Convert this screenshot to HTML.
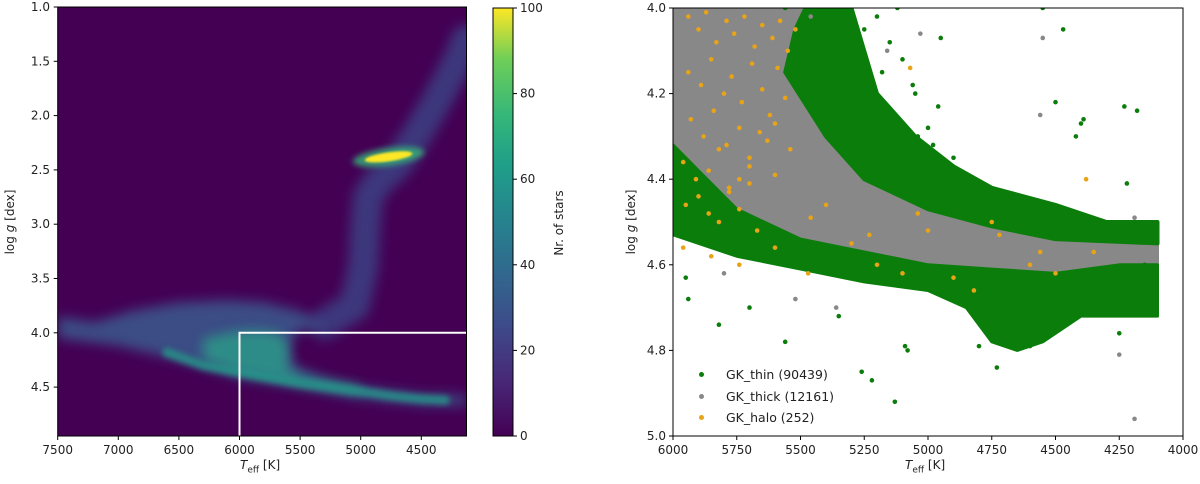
<!DOCTYPE html>
<html><head><meta charset="utf-8"><style>
body{margin:0;background:#fff;}
svg{display:block;font-family:"DejaVu Sans","Liberation Sans",sans-serif;}
text{font-size:12px;fill:#222;}
</style></head><body>
<svg id="fig" width="1200" height="484" viewBox="0 0 1200 484">
<defs>
<filter id="b3" x="-50%" y="-50%" width="200%" height="200%"><feGaussianBlur stdDeviation="3"/></filter>
<filter id="b6" x="-50%" y="-50%" width="200%" height="200%"><feGaussianBlur stdDeviation="6"/></filter>
<filter id="b1"><feGaussianBlur stdDeviation="1"/></filter>
<clipPath id="clipL"><rect x="57.7" y="7" width="408.8" height="429"/></clipPath>
<clipPath id="clipR"><rect x="673" y="8" width="510" height="428"/></clipPath>
<linearGradient id="vir" x1="0" y1="1" x2="0" y2="0">
<stop offset="0" stop-color="#440154"/><stop offset="0.13" stop-color="#482878"/><stop offset="0.25" stop-color="#3e4989"/><stop offset="0.38" stop-color="#31688e"/><stop offset="0.5" stop-color="#26828e"/><stop offset="0.63" stop-color="#1f9e89"/><stop offset="0.75" stop-color="#35b779"/><stop offset="0.88" stop-color="#6ece58"/><stop offset="1" stop-color="#fde725"/>
</linearGradient>
</defs>
<g id="left"></g>
<g id="right"></g>
</svg>
<script>
// ---- left panel data ----
const leftXTicks=[7500,7000,6500,6000,5500,5000,4500];
const leftYTicks=[1.0,1.5,2.0,2.5,3.0,3.5,4.0,4.5];
const cbTicks=[0,20,40,60,80,100];
const cloudT=[7500,7200,6900,6500,6100,5800,5500,5300,5530,5600,5550,5300,5000,4500,4130,4130,4500,5000,5500,6000,6500,7000,7500];
const cloudG=[3.85,3.9,3.8,3.72,3.7,3.72,3.8,3.92,4.0,4.15,4.3,4.42,4.5,4.57,4.58,4.67,4.66,4.6,4.5,4.41,4.25,4.12,4.05];
const coreT=[6300,6000,5750,5620,5580,5620,5500,5250,5000,5000,5500,6000,6300];
const coreG=[4.05,3.98,3.98,4.05,4.2,4.3,4.4,4.45,4.5,4.56,4.47,4.37,4.25];
const msBandT=[6600,6300,6000,5750,5500,5250,5000,4750,4500,4300];
const msBandG=[4.18,4.3,4.36,4.41,4.46,4.5,4.54,4.58,4.61,4.62];
const giantT=[5300,5050,4980,4960,4940,4850,4700,4550,4390,4200,4130];
const giantG=[3.92,3.75,3.4,3.0,2.75,2.6,2.45,2.2,1.9,1.5,1.3];
const streakT=[5750,5500,5250,5000,6000,4990];
const streakTop=[4.1,4.35,4.45,4.5,4.05,3.2];
const streakBot=[4.42,4.5,4.55,4.58,4.45,3.65];
const clumpT=4770, clumpG=2.38;
const boxT=6000, boxG=4.0;
// ---- right panel data ----
const rightXTicks=[6000,5750,5500,5250,5000,4750,4500,4250,4000];
const rightYTicks=[4.0,4.2,4.4,4.6,4.8,5.0];
const grayTopT=[6000,5475,5420,5300,5150,5000,4750,4500,4250,4100];
const grayTopG=[4.0,4.0,4.15,4.3,4.4,4.45,4.5,4.5,4.52,4.52];
const grayBotT=[4100,4250,4500,4750,5000,5250,5500,5750,6000];
const grayBotG=[4.68,4.68,4.66,4.64,4.62,4.6,4.57,4.52,4.45];
const bandTopT=[5480,5300,5250,5200,5050,4900,4750,4500,4300,4100];
const bandTopG=[4.0,4.0,4.1,4.2,4.3,4.37,4.42,4.46,4.5,4.5];
const bandBotT=[4100,4500,4750,5000,5250,5400,5560,5520];
const bandBotG=[4.55,4.54,4.51,4.47,4.4,4.3,4.15,4.05];
const stripTopT=[6000,5900,5750,5500,5250,5000,4750,4500,4250,4100];
const stripTopG=[4.32,4.38,4.47,4.54,4.57,4.6,4.61,4.62,4.6,4.6];
const stripBotT=[4100,4250,4400,4550,4650,4750,4850,5000,5250,5500,5750,6000];
const stripBotG=[4.72,4.72,4.72,4.78,4.8,4.78,4.7,4.66,4.64,4.61,4.58,4.53];
const thinOutT=[5940,5820,5560,5220,5130,5090,5080,4950,4550,4470,4420,4400,4390,4220,4180,4230,4960,5050,5040,5260,5350,4730,4250,4800,4600,5700,5950,5560,4500,4150,5250,5200,5150,5100,5120,5180,5060,5000,4980,4900];
const thinOutG=[4.68,4.74,4.78,4.87,4.92,4.79,4.8,4.07,4.0,4.05,4.3,4.27,4.26,4.41,4.24,4.23,4.23,4.2,4.3,4.85,4.72,4.84,4.76,4.79,4.79,4.7,4.63,4.0,4.22,4.6,4.05,4.02,4.08,4.12,4.0,4.15,4.18,4.28,4.32,4.35];
const thickOutT=[5030,4550,4560,4250,4190,4190,5520,5800,5360,5160,5460];
const thickOutG=[4.06,4.07,4.25,4.81,4.96,4.49,4.68,4.62,4.7,4.1,4.02];
const haloT=[5940,5900,5870,5830,5790,5760,5720,5680,5650,5610,5580,5550,5520,5940,5890,5850,5800,5770,5730,5690,5650,5620,5590,5560,5930,5880,5840,5790,5740,5700,5660,5630,5600,5960,5910,5860,5820,5780,5740,5700,5950,5900,5860,5820,5780,5740,5700,5670,5600,5540,5400,5070,4380,5460,5230,5000,4750,4560,4350,5960,5850,5740,5600,5470,5100,4900,4820,5200,5300,5040,4720,4600,4500];
const haloG=[4.02,4.05,4.01,4.08,4.03,4.06,4.02,4.09,4.04,4.07,4.03,4.1,4.05,4.15,4.18,4.12,4.2,4.16,4.22,4.13,4.19,4.25,4.14,4.21,4.26,4.3,4.24,4.32,4.28,4.35,4.29,4.31,4.27,4.36,4.4,4.38,4.33,4.42,4.4,4.37,4.46,4.44,4.48,4.5,4.43,4.47,4.41,4.52,4.39,4.33,4.46,4.14,4.4,4.49,4.53,4.52,4.5,4.57,4.57,4.56,4.58,4.6,4.56,4.62,4.62,4.63,4.66,4.6,4.55,4.48,4.53,4.6,4.62];

const NS="http://www.w3.org/2000/svg";
function mk(tag,attrs,parent){const e=document.createElementNS(NS,tag);for(const k in attrs)e.setAttribute(k,attrs[k]);parent.appendChild(e);return e;}
const L=document.getElementById('left'), R=document.getElementById('right');
const lx=t=>57.7+(7500-t)/500*60.6, ly=g=>7+(g-1)/0.5*54.3;
const rx=t=>673+(6000-t)/2000*510, ry=g=>8+(g-4)*428;
const pts=(T,G,fx,fy)=>T.map((t,i)=>fx(t)+','+fy(G[i])).join(' ');

// ---- left panel ----
let bg=mk('rect',{x:57.7,y:7,width:408.8,height:429,fill:'#440154'},L);

const lg=mk('g',{'clip-path':'url(#clipL)'},L);
let gb=mk('polyline',{points:pts(giantT,giantG,lx,ly),fill:'none',stroke:'#3b4a8a','stroke-width':30,'stroke-linejoin':'round','stroke-linecap':'round',opacity:0.75,filter:'url(#b6)'},lg);

let to=mk('polygon',{points:pts(cloudT,cloudG,lx,ly),fill:'#3a5a8e',opacity:0.85,filter:'url(#b6)'},lg);

let core=mk('polygon',{points:pts(coreT,coreG,lx,ly),fill:'#2a9d88',opacity:0.8,filter:'url(#b6)'},lg);

let ms=mk('polyline',{points:pts(msBandT,msBandG,lx,ly),fill:'none',stroke:'#27968a','stroke-width':9,'stroke-linecap':'round',opacity:0.85,filter:'url(#b3)'},lg);

streakT.forEach((t,i)=>{const s=mk('line',{x1:lx(t),x2:lx(t),y1:ly(streakTop[i]),y2:ly(streakBot[i]),stroke:'#a8db34','stroke-width':2,opacity:0.75,filter:'url(#b1)'},lg);
});
let ch=mk('ellipse',{cx:lx(clumpT),cy:ly(clumpG),rx:36,ry:9,fill:'#35b779',opacity:0.8,filter:'url(#b3)',transform:`rotate(-8 ${lx(clumpT)} ${ly(clumpG)})`},lg);

let cl=mk('ellipse',{cx:lx(clumpT),cy:ly(clumpG),rx:24,ry:4.5,fill:'#fde725',filter:'url(#b1)',transform:`rotate(-8 ${lx(clumpT)} ${ly(clumpG)})`},lg);

let box=mk('polyline',{points:`${lx(boxT)},436 ${lx(boxT)},${ly(boxG)} 466.5,${ly(boxG)}`,fill:'none',stroke:'#fff','stroke-width':2},lg);

let fr=mk('rect',{x:57.7,y:7,width:408.8,height:429,fill:'none',stroke:'#000','stroke-width':1},L);

leftXTicks.forEach(t=>{const x=lx(t);mk('line',{x1:x,x2:x,y1:436,y2:440,stroke:'#000'},L);
const tx=mk('text',{x:x,y:454,'text-anchor':'middle'},L);tx.textContent=t;
});
leftYTicks.forEach(g=>{const y=ly(g);mk('line',{x1:53.7,x2:57.7,y1:y,y2:y,stroke:'#000'},L);
const tx=mk('text',{x:50,y:y+4,'text-anchor':'end'},L);tx.textContent=g.toFixed(1);
});
let cb=mk('rect',{x:493,y:8,width:20,height:428,fill:'url(#vir)',stroke:'#000','stroke-width':1},L);

cbTicks.forEach(v=>{const y=436-v/100*428;mk('line',{x1:513,x2:517,y1:y,y2:y,stroke:'#000'},L);
const tx=mk('text',{x:520,y:y+4},L);tx.textContent=v;
});

// ---- right panel ----
let rb=mk('rect',{x:673,y:8,width:510,height:428,fill:'#fff'},R);

const rg=mk('g',{'clip-path':'url(#clipR)'},R);
let gy=mk('polygon',{points:pts(grayTopT.concat(grayBotT),grayTopG.concat(grayBotG),rx,ry),fill:'#888',stroke:'#888','stroke-width':3,'stroke-linejoin':'round'},rg);

let gr=mk('polygon',{points:pts(bandTopT.concat(bandBotT),bandTopG.concat(bandBotG),rx,ry),fill:'#0a7d0a',stroke:'#0a7d0a','stroke-width':4,'stroke-linejoin':'round'},rg);

let st=mk('polygon',{points:pts(stripTopT.concat(stripBotT),stripTopG.concat(stripBotG),rx,ry),fill:'#0a7d0a',stroke:'#0a7d0a','stroke-width':3,'stroke-linejoin':'round'},rg);

thinOutT.forEach((t,i)=>{const c=mk('circle',{cx:rx(t),cy:ry(thinOutG[i]),r:2.3,fill:'#0a7d0a'},rg);
});
thickOutT.forEach((t,i)=>{const c=mk('circle',{cx:rx(t),cy:ry(thickOutG[i]),r:2.3,fill:'#888'},rg);
});
haloT.forEach((t,i)=>{const c=mk('circle',{cx:rx(t),cy:ry(haloG[i]),r:2.3,fill:'#e8a317'},rg);
});
let rf=mk('rect',{x:673,y:8,width:510,height:428,fill:'none',stroke:'#000','stroke-width':1},R);

rightXTicks.forEach(t=>{const x=rx(t);mk('line',{x1:x,x2:x,y1:436,y2:440,stroke:'#000'},R);
const tx=mk('text',{x:x,y:454,'text-anchor':'middle'},R);tx.textContent=t;
});
rightYTicks.forEach(g=>{const y=ry(g);mk('line',{x1:669,x2:673,y1:y,y2:y,stroke:'#000'},R);
const tx=mk('text',{x:666,y:y+4,'text-anchor':'end'},R);tx.textContent=g.toFixed(1);
});
</script>
<div style="position:absolute;left:0;top:0;width:1200px;height:484px;pointer-events:none;font-family:'DejaVu Sans','Liberation Sans',sans-serif;font-size:12px;color:#222;">
<div style="position:absolute;left:240px;top:458px;"><i>T</i><sub style="font-size:9px">eff</sub> [K]</div>
<div style="position:absolute;left:-30px;top:215px;width:80px;text-align:center;transform:rotate(-90deg);">log <i>g</i> [dex]</div>
<div style="position:absolute;left:552px;top:268px;width:90px;text-align:center;transform:rotate(-90deg);transform-origin:0 0;">Nr. of stars</div>
<div style="position:absolute;left:905px;top:458px;"><i>T</i><sub style="font-size:9px">eff</sub> [K]</div>
<div style="position:absolute;left:591px;top:215px;width:80px;text-align:center;transform:rotate(-90deg);">log <i>g</i> [dex]</div>
<div style="position:absolute;left:696px;top:364px;line-height:21.5px;font-size:12.5px;">
<div><span style="display:inline-block;width:5px;height:5px;border-radius:50%;background:#0a7d0a;margin:0 22px 2px 3px;"></span>GK_thin (90439)</div>
<div><span style="display:inline-block;width:5px;height:5px;border-radius:50%;background:#888;margin:0 22px 2px 3px;"></span>GK_thick (12161)</div>
<div><span style="display:inline-block;width:5px;height:5px;border-radius:50%;background:#e8a317;margin:0 22px 2px 3px;"></span>GK_halo (252)</div>
</div>
</div>
</body></html>
